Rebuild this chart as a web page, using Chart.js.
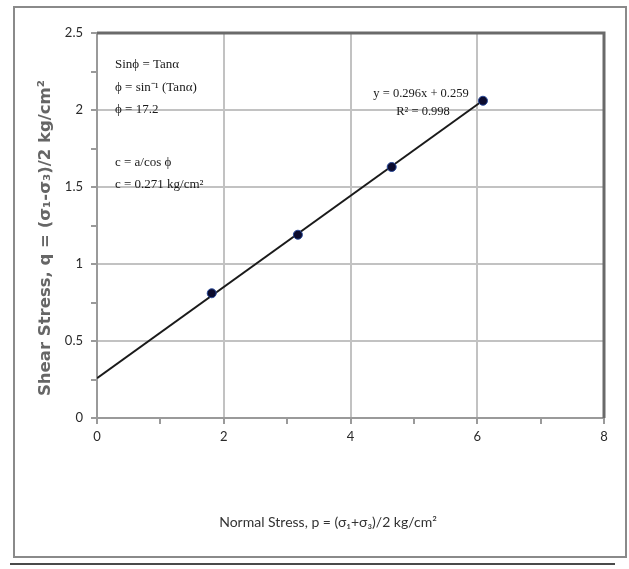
<!DOCTYPE html>
<html>
<head>
<meta charset="utf-8">
<script src="https://cdn.jsdelivr.net/npm/chart.js@4.4.1/dist/chart.umd.min.js"></script>
<style>
  html, body { margin: 0; padding: 0; background: #fff; }
  canvas { display: block; }
</style>
</head>
<body>
<canvas id="mohrChart" width="629" height="569"></canvas>
<script>
// data points
var normalStress = [1.81, 3.17, 4.65, 6.09];
var shearStress = [0.81, 1.19, 1.63, 2.06];

// fitted line end points (y = 0.296x + 0.259)
var trendX = [0, 6.09];
var trendY = [0.259, 2.062];

var xTicks = [0, 2, 4, 6, 8];
var yTicks = [0, 0.5, 1, 1.5, 2, 2.5];

var noteLines = ["Sin\u03d5 = Tan\u03b1", "\u03d5 = sin\u207b\u00b9 (Tan\u03b1)", "\u03d5 = 17.2", "c = a/cos \u03d5", "c = 0.271 kg/cm\u00b2"];
var eqLines = ["y = 0.296x + 0.259", "R\u00b2 = 0.998"];
var xTitle = "Normal Stress, p = (\u03c3\u2081+\u03c3\u2083)/2 kg/cm\u00b2";
var yTitle = "Shear Stress, q = (\u03c3\u2081-\u03c3\u2083)/2 kg/cm\u00b2";

var pts = normalStress.map(function (x, i) { return { x: x, y: shearStress[i] }; });
var trend = trendX.map(function (x, i) { return { x: x, y: trendY[i] }; });

function isMajor(v, step) {
  return Math.abs(v / step - Math.round(v / step)) < 1e-6;
}

// frame, plot border on top/right, axis titles and the text boxes
var extras = {
  id: 'extras',
  beforeDraw: function (chart) {
    var c = chart.ctx;
    c.save();
    c.fillStyle = '#fff';
    c.fillRect(0, 0, chart.width, chart.height);
    c.restore();
  },
  afterDraw: function (chart) {
    var c = chart.ctx;
    var a = chart.chartArea;
    c.save();
    // outer frame
    c.strokeStyle = '#8a8a8a';
    c.lineWidth = 2;
    c.strokeRect(14, 7, 612, 550);
    // line under the frame
    c.strokeStyle = '#4a4a4a';
    c.beginPath();
    c.moveTo(10, 564);
    c.lineTo(615, 564);
    c.stroke();
    // top and right edge of plot
    c.strokeStyle = '#6a6a6a';
    c.lineWidth = 3;
    c.beginPath();
    c.moveTo(a.left, a.top);
    c.lineTo(a.right, a.top);
    c.lineTo(a.right, a.bottom);
    c.stroke();

    // axis titles
    c.textBaseline = 'middle';
    c.textAlign = 'center';
    c.fillStyle = '#333';
    c.font = '14px Lato';
    c.fillText(xTitle, 328, 522);
    c.save();
    c.translate(46, 238);
    c.rotate(-Math.PI / 2);
    c.fillStyle = '#666';
    c.font = 'bold 16.5px "DejaVu Sans"';
    c.fillText(yTitle, 0, 0);
    c.restore();

    // notes
    c.fillStyle = '#1a1a1a';
    c.font = '13px "Liberation Serif"';
    c.textAlign = 'left';
    var noteY = [65, 88, 110, 163, 185];
    noteLines.forEach(function (t, i) {
      c.fillText(t, 115, noteY[i]);
    });
    // trend equation
    c.textAlign = 'center';
    c.font = '12.5px "Liberation Serif"';
    c.fillText(eqLines[0], 421, 94);
    c.fillText(eqLines[1], 423, 112);
    c.restore();
  }
};

var ctx = document.getElementById('mohrChart').getContext('2d');
var mohrChart = new Chart(ctx, {
  type: 'scatter',
  data: {
    datasets: [{
      label: 'trend',
      data: trend,
      showLine: true,
      borderColor: '#1a1a1a',
      borderWidth: 2,
      pointRadius: 0,
      order: 2
    }, {
      label: 'points',
      data: pts,
      pointRadius: 4.5,
      pointBackgroundColor: '#0b0b2e',
      pointBorderColor: '#2a4a9a',
      pointBorderWidth: 1,
      order: 1
    }]
  },
  options: {
    responsive: false,
    animation: false,
    devicePixelRatio: 1,
    layout: { padding: { left: 14, top: 33, right: 25, bottom: 12 } },
    plugins: { legend: { display: false }, tooltip: { enabled: false } },
    scales: {
      x: {
        type: 'linear',
        min: xTicks[0],
        max: xTicks[xTicks.length - 1],
        afterBuildTicks: function (s) {
          var t = [];
          for (var v = xTicks[0]; v <= xTicks[xTicks.length - 1] + 1e-9; v += 1) t.push({ value: v });
          s.ticks = t;
        },
        afterFit: function (s) { s.height = 139; },
        ticks: {
          autoSkip: false,
          maxRotation: 0,
          padding: 5,
          color: '#2a2a2a',
          font: { family: 'Lato', size: 13 },
          callback: function (v) { return xTicks.indexOf(v) >= 0 ? String(v) : ''; }
        },
        grid: {
          color: function (c) { return isMajor(c.tick.value, 2) ? '#c2c2c2' : 'rgba(0,0,0,0)'; },
          tickColor: '#9a9a9a',
          lineWidth: 2,
          tickLength: 6
        },
        border: { color: '#9a9a9a', width: 2 }
      },
      y: {
        type: 'linear',
        min: yTicks[0],
        max: yTicks[yTicks.length - 1],
        afterBuildTicks: function (s) {
          var t = [];
          for (var v = 0; v <= 2.5 + 1e-9; v += 0.25) t.push({ value: Math.round(v * 100) / 100 });
          s.ticks = t;
        },
        afterFit: function (s) { s.width = 83; },
        ticks: {
          autoSkip: false,
          padding: 8,
          color: '#2a2a2a',
          font: { family: 'Lato', size: 13 },
          callback: function (v) { return yTicks.indexOf(v) >= 0 ? String(v) : ''; }
        },
        grid: {
          color: function (c) { return isMajor(c.tick.value, 0.5) ? '#c2c2c2' : 'rgba(0,0,0,0)'; },
          tickColor: '#9a9a9a',
          lineWidth: 2,
          tickLength: 6
        },
        border: { color: '#9a9a9a', width: 2 }
      }
    }
  },
  plugins: [extras]
});
</script>
</body>
</html>
